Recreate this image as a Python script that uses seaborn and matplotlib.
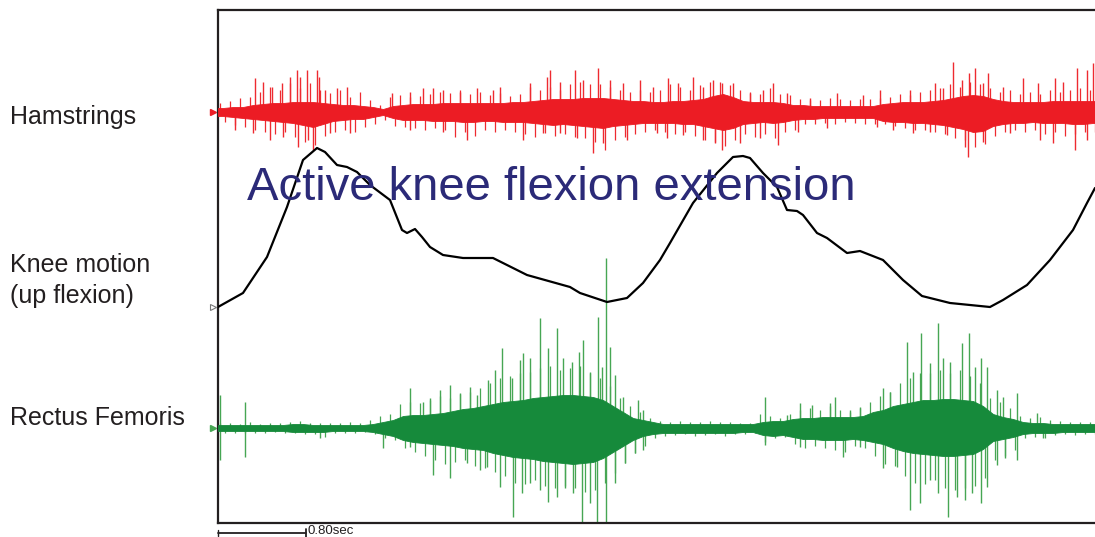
import numpy as np
import pandas as pd
import matplotlib
matplotlib.use("Agg")
import matplotlib.pyplot as plt
import seaborn as sns

FS = 1100   # EMG samples per second
WIN = 100   # samples per envelope bin

# ---- Hamstrings EMG -------------------------------------------------------
# per-bin envelope of the dense activity band (upper / lower half-width)
ham_core_up = [4, 5, 5, 7, 8, 9, 9, 10, 10, 10, 9, 8, 7, 7, 6, 5, 3, 6, 7, 8, 8, 8,
               9, 9, 9, 9, 9, 9, 9, 10, 10, 11, 12, 13, 13, 13, 14, 14, 14, 13, 12, 11, 11, 10,
               10, 11, 11, 12, 13, 16, 18, 15, 11, 10, 10, 10, 9, 7, 7, 6, 6, 6, 6, 6, 6, 6,
               8, 9, 10, 10, 10, 11, 12, 14, 16, 17, 16, 13, 11, 10, 10, 10, 10, 11, 11, 11, 11, 11]
ham_core_dn = [4, 5, 6, 7, 8, 9, 10, 11, 13, 15, 12, 9, 8, 7, 7, 5, 3, 6, 8, 8, 8, 9,
               9, 9, 10, 10, 9, 9, 10, 10, 10, 11, 12, 13, 12, 13, 14, 15, 16, 14, 13, 12, 11, 11,
               11, 11, 12, 12, 14, 16, 18, 16, 12, 11, 10, 11, 10, 8, 7, 7, 6, 6, 6, 6, 6, 6,
               9, 10, 10, 11, 11, 12, 13, 15, 17, 20, 19, 14, 12, 11, 11, 10, 11, 11, 11, 12, 12, 11]
# per-bin height of the small spikes fringing the band
ham_fringe_up = [9, 11, 14, 15, 20, 25, 22, 29, 24, 29, 22, 19, 22, 15, 20, 12, 7, 15, 17, 15, 16, 18,
                 20, 19, 22, 18, 20, 17, 19, 16, 18, 25, 22, 25, 22, 28, 30, 28, 28, 25, 22, 20, 22, 20,
                 22, 28, 25, 22, 27, 30, 30, 27, 22, 20, 18, 24, 18, 17, 13, 12, 12, 14, 13, 12, 13, 13,
                 14, 15, 18, 17, 20, 22, 24, 28, 25, 30, 28, 24, 20, 22, 18, 20, 18, 22, 20, 22, 24, 22]
ham_fringe_dn = [10, 13, 15, 18, 20, 22, 20, 25, 30, 33, 24, 20, 18, 20, 15, 12, 8, 14, 15, 16, 18, 16,
                 18, 25, 20, 24, 18, 20, 18, 20, 22, 25, 21, 24, 22, 25, 26, 30, 38, 28, 25, 22, 20, 18,
                 20, 22, 20, 24, 28, 30, 34, 28, 22, 25, 22, 26, 20, 18, 12, 12, 11, 12, 10, 11, 12, 12,
                 12, 14, 16, 18, 18, 20, 22, 26, 28, 35, 32, 24, 20, 18, 20, 18, 22, 20, 24, 22, 20, 20]
# large isolated spikes (sample index, amplitude)
ham_up_idx = [370, 450, 540, 640, 720, 790, 820, 890, 990, 1010, 1070, 1190, 1290,
              1740, 1920, 2050, 2150, 2250, 2420, 2590, 2750, 2820, 3120, 3290,
              3320, 3420, 3570, 3650, 3800, 3920, 4050, 4220, 4350, 4500, 4600,
              4750, 4850, 4950, 5040, 5150, 5320, 5450, 5550, 5690, 5920, 6190,
              6450, 6620, 6920, 7170, 7250, 7350, 7440, 7510, 7570, 7650, 7700,
              7850, 8050, 8200, 8370, 8450, 8590, 8690, 8750]
ham_up_amp = [34, 30, 25, 29, 35, 42, 35, 42, 42, 35, 22, 24, 25, 19, 20, 24, 24,
              22, 20, 24, 22, 25, 29, 35, 42, 30, 42, 32, 44, 32, 29, 32, 25, 34,
              29, 35, 25, 32, 29, 29, 19, 22, 29, 19, 14, 19, 17, 22, 22, 29, 24,
              50, 32, 39, 44, 29, 39, 25, 34, 29, 34, 30, 44, 42, 49]
ham_dn_idx = [170, 350, 520, 650, 800, 900, 950, 1120, 1320, 1920, 2250, 2490,
              3050, 3250, 3420, 3590, 3750, 3850, 4090, 4390, 4490, 4650, 4850,
              4970, 5040, 5220, 5420, 5600, 5800, 6090, 6590, 6750, 6950, 7120,
              7290, 7470, 7500, 7650, 7920, 8220, 8350, 8570, 8690]
ham_dn_amp = [18, 21, 28, 25, 35, 28, 38, 21, 21, 18, 20, 28, 28, 21, 21, 26, 41,
              31, 28, 21, 26, 23, 28, 31, 38, 31, 26, 33, 20, 16, 15, 18, 21, 20,
              23, 35, 45, 30, 21, 28, 31, 38, 28]

# ---- Knee goniometer (degrees, flexion up) ---------------------------------
knee_idx = [0, 250, 490, 690, 850, 990, 1070, 1190, 1290, 1390, 1520, 1720, 1840,
            1890, 1970, 2040, 2120, 2250, 2450, 2750, 2850, 3090, 3520, 3620,
            3890, 4090, 4250, 4420, 4520, 4750, 4990, 5150, 5250, 5320, 5450,
            5590, 5690, 5790, 5850, 5990, 6090, 6290, 6420, 6650, 6850, 7040,
            7320, 7720, 7850, 8090, 8320, 8550, 8690, 8770]
knee_angle = [0, 7, 25, 50, 73.5, 79.5, 77.5, 71, 70, 67.5, 61, 53.5, 38.5, 37, 39,
              35, 30, 26, 24.5, 24.5, 22, 16, 10, 7, 2.5, 4.5, 12, 23.5, 32, 52,
              67, 75, 75.5, 74.5, 67, 60, 48.5, 48, 46, 37, 34.5, 27, 28, 23.5,
              13.5, 5.5, 2, 0, 3.5, 11, 23.5, 38.5, 52, 59.5]

# ---- Rectus femoris EMG ----------------------------------------------------
rf_core_up = [3, 3, 3, 3, 3, 3, 3, 4, 4, 3, 3, 3, 3, 3, 3, 4, 6, 8,
              12, 13, 13, 14, 15, 17, 19, 20, 22, 24, 26, 27, 28, 30, 31, 32, 33, 33, 32, 31,
              28, 22, 16, 10, 8, 6,
              4, 4, 4, 4, 4, 4, 4, 4, 4, 4,
              6, 7, 7, 9, 10, 10, 11, 11, 11, 11, 12,
              16, 18, 22, 24, 26, 28, 28, 29, 29, 28, 27, 22, 14, 11, 9,
              6, 5, 5, 4, 4, 4, 4, 4]
rf_core_dn = [3, 3, 3, 3, 3, 3, 3, 4, 4, 4, 4, 3, 3, 3, 3, 4, 6, 8,
              12, 14, 15, 16, 17, 18, 20, 21, 22, 25, 27, 29, 30, 31, 33, 34, 35, 36, 35, 34,
              30, 24, 18, 12, 8, 6,
              5, 5, 5, 5, 5, 5, 5, 5, 4, 4,
              7, 8, 7, 9, 11, 11, 12, 12, 12, 11, 12,
              14, 16, 20, 23, 25, 26, 27, 28, 28, 27, 26, 21, 13, 11, 9,
              6, 5, 5, 5, 4, 4, 4, 4]
rf_fringe_up = [5, 5, 4, 6, 4, 5, 5, 6, 7, 5, 5, 5, 5, 6, 5, 8, 12, 14,
                24, 26, 25, 28, 32, 30, 34, 36, 40, 45, 50, 52, 55, 56, 60, 62, 58, 60, 62, 55,
                50, 42, 30, 22, 16, 10,
                7, 6, 7, 6, 6, 7, 6, 6, 5, 5,
                14, 12, 10, 14, 18, 20, 18, 22, 18, 16, 20,
                26, 32, 36, 45, 50, 55, 55, 58, 55, 58, 52, 45, 30, 26, 20,
                12, 10, 11, 8, 7, 6, 6, 6]
rf_fringe_dn = [5, 5, 5, 5, 5, 4, 5, 5, 6, 6, 9, 5, 5, 5, 4, 6, 10, 12,
                20, 24, 28, 32, 36, 34, 32, 38, 40, 44, 48, 55, 56, 52, 58, 60, 58, 60, 64, 62,
                55, 45, 35, 25, 18, 10,
                8, 7, 6, 8, 7, 6, 8, 6, 6, 5,
                14, 10, 9, 16, 20, 18, 20, 22, 24, 18, 20,
                28, 36, 38, 48, 55, 56, 52, 60, 62, 60, 58, 50, 32, 28, 22,
                10, 9, 10, 7, 6, 7, 6, 6]
rf_up_idx = [20, 270, 1920, 2050, 2120, 2220, 2320, 2420, 2520, 2590, 2700, 2770,
             2840, 2940, 3020, 3050, 3120, 3220, 3300, 3390, 3450, 3540, 3610,
             3650, 3720, 3800, 3840, 3880, 3920, 3970, 4050, 4200, 4250, 5470,
             5690, 5820, 5940, 6120, 6170, 6320, 6420, 6650, 6720, 6890, 6950,
             7030, 7120, 7200, 7250, 7320, 7440, 7510, 7570, 7630, 7690, 7790,
             7850, 7990, 8190]
rf_up_amp = [33, 26, 40, 26, 30, 38, 43, 35, 41, 33, 48, 58, 80, 50, 68, 75, 70,
             110, 80, 100, 70, 66, 76, 88, 56, 111, 61, 170, 81, 53, 31, 28, 18,
             31, 13, 25, 23, 25, 31, 18, 21, 40, 36, 86, 56, 95, 65, 105, 70, 66,
             85, 95, 61, 70, 61, 38, 31, 35, 15]
rf_dn_idx = [20, 270, 1020, 1650, 1920, 2150, 2320, 2490, 2620, 2690, 2820, 2950,
             3040, 3120, 3220, 3300, 3390, 3470, 3550, 3640, 3720, 3790, 3880,
             3970, 4070, 4170, 4250, 5470, 5820, 6250, 6420, 6650, 6790, 6920,
             7020, 7120, 7200, 7300, 7390, 7470, 7540, 7630, 7690, 7790, 7870,
             7990, 8250]
rf_dn_amp = [32, 29, 10, 20, 19, 47, 50, 35, 42, 39, 59, 89, 65, 55, 62, 74, 69,
             60, 65, 95, 75, 95, 95, 55, 35, 25, 22, 17, 19, 29, 19, 40, 39, 82,
             75, 52, 65, 89, 69, 72, 65, 75, 59, 37, 30, 32, 10]

# ---- stacking of the three channels on one canvas --------------------------
HAM_BASE, KNEE_BASE, RF_BASE = 411, 216, 95
KNEE_GAIN = 2.0
X_END = 8770
SCALE_SEC = 0.80

RED = "#ec1c24"
RED_SPIKE = "#ee2a30"
GREEN = "#168a3b"
GREEN_SPIKE = "#46a653"
NAVY = "#2b2a78"
INK = "#231f20"

sns.set_style("white")
plt.rcParams["font.family"] = ["Liberation Sans", "DejaVu Sans"]

fig = plt.figure(figsize=(10.95, 5.37), dpi=100)
ax = fig.add_axes([218 / 1095, 14 / 537, 877 / 1095, 513 / 537])
ax.set_xlim(0, X_END)
ax.set_ylim(0, 513)


def draw_emg(base, core_up, core_dn, fr_up, fr_dn, up_idx, up_amp, dn_idx,
             dn_amp, core, spike):
    n = len(core_up)
    centers = np.arange(n) * WIN + WIN / 2
    # envelope edges are anchored at the bin centres and the record ends
    xs = np.concatenate([[0], centers, [X_END]])
    hi = np.concatenate([[core_up[0]], core_up, [core_up[-1]]])
    lo = np.concatenate([[core_dn[0]], core_dn, [core_dn[-1]]])
    ax.fill_between(xs, base + hi, base - lo, color=core, lw=0.6,
                    edgecolor=core, zorder=3)
    # fringe of small spikes, one upward and one downward per bin
    ax.vlines(centers - 30, base, base + np.asarray(fr_up), color=spike,
              lw=0.9, zorder=2)
    ax.vlines(centers + 20, base - np.asarray(fr_dn), base, color=spike,
              lw=0.9, zorder=2)
    # large isolated spikes
    ax.vlines(up_idx, base, base + np.asarray(up_amp), color=spike, lw=1.0,
              zorder=2)
    ax.vlines(dn_idx, base - np.asarray(dn_amp), base, color=spike, lw=1.0,
              zorder=2)


draw_emg(HAM_BASE, ham_core_up, ham_core_dn, ham_fringe_up, ham_fringe_dn,
         ham_up_idx, ham_up_amp, ham_dn_idx, ham_dn_amp, RED, RED_SPIKE)
draw_emg(RF_BASE, rf_core_up, rf_core_dn, rf_fringe_up, rf_fringe_dn,
         rf_up_idx, rf_up_amp, rf_dn_idx, rf_dn_amp, GREEN, GREEN_SPIKE)

knee = pd.DataFrame({"sample": knee_idx,
                     "trace": KNEE_BASE + KNEE_GAIN * np.asarray(knee_angle)})
sns.lineplot(data=knee, x="sample", y="trace", color="black", lw=1.6,
             sort=False, ax=ax, zorder=4)

# channel markers at the left border
ax.plot([-55], [HAM_BASE], marker=">", ms=5, color=RED, clip_on=False)
ax.plot([-55], [KNEE_BASE], marker=">", ms=4, mfc="white", mec="#777777",
        mew=0.8, clip_on=False)
ax.plot([-55], [RF_BASE], marker=">", ms=4, color=GREEN_SPIKE, clip_on=False)

ax.text(290, 323, "Active knee flexion extension", color=NAVY, fontsize=34,
        va="baseline", ha="left", zorder=5)

ax.spines["right"].set_visible(False)
for side in ("left", "top", "bottom"):
    ax.spines[side].set_color(INK)
    ax.spines[side].set_linewidth(1.6)
ax.set_xticks([])
ax.set_yticks([])
ax.set_xlabel("")
ax.set_ylabel("")

# channel names
for label, py in [("Hamstrings", 124), ("Knee motion", 272),
                  ("(up flexion)", 303), ("Rectus Femoris", 425)]:
    fig.text(10 / 1095, 1 - py / 537, label, fontsize=18, color=INK,
             va="baseline", ha="left")

# time scale bar
bar_len = SCALE_SEC * FS
ax.plot([0, bar_len], [-10, -10], color=INK, lw=1.3, clip_on=False)
ax.plot([0, 0], [-13, -7], color=INK, lw=1.0, clip_on=False)
ax.plot([bar_len, bar_len], [-14, -6], color=INK, lw=1.3, clip_on=False)
ax.text(bar_len + 20, -10.5, f"{SCALE_SEC:.2f}sec", fontsize=9.5, color=INK,
        va="baseline", ha="left", clip_on=False)

fig.savefig("out.png", dpi=100)
